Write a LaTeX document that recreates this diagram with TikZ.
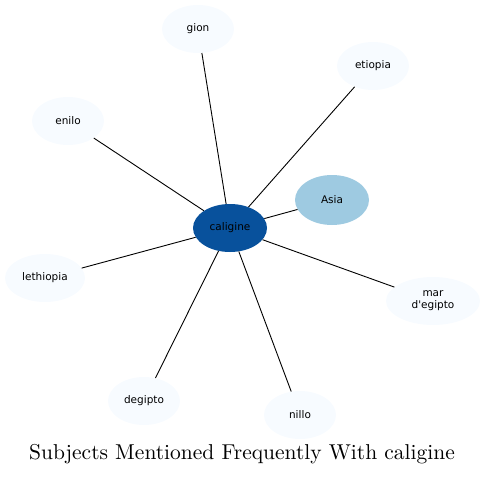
\documentclass[tikz,border=0pt]{standalone}
\usepackage{fontspec}
\newfontfamily\nodefont{DejaVu Sans}
\usetikzlibrary{shapes.geometric}
\definecolor{darkblue}{HTML}{08519C}
\definecolor{midblue}{HTML}{9ECAE1}
\definecolor{paleblue}{HTML}{F7FBFF}
\tikzset{
  bubble/.style={ellipse, draw=none, fill=paleblue, minimum width=72pt, minimum height=48pt, inner sep=0pt, font=\nodefont\fontsize{10.5}{12}\selectfont, align=center},
  hub/.style={bubble, fill=darkblue, minimum width=74pt},
  near/.style={bubble, fill=midblue, minimum width=74pt, minimum height=50pt},
  link/.style={draw=black, line width=0.9pt}
}
\begin{document}
\begin{tikzpicture}[x=1pt,y=-1pt]
\useasboundingbox (0,0) rectangle (486,476);
\node[hub] (c) at (230,228) {caligine};
\node[near] (asia) at (332,200) {Asia};
\node[bubble] (gion) at (198,29) {gion};
\node[bubble] (etiopia) at (373,66) {etiopia};
\node[bubble] (enilo) at (68,121) {enilo};
\node[bubble, minimum width=80pt] (leth) at (45,278) {lethiopia};
\node[bubble, minimum width=94pt] (mar) at (433,301) {mar\\d'egipto};
\node[bubble] (degipto) at (144,401) {degipto};
\node[bubble] (nillo) at (300,415) {nillo};
\foreach \n in {asia,gion,etiopia,enilo,leth,mar,degipto,nillo}
  \draw[link] (c) -- (\n);
\node[font=\fontsize{10}{12}\selectfont, anchor=base, inner sep=0pt] (title) at (242,459) {\scalebox{2.15}{Subjects Mentioned Frequently With caligine}};
\end{tikzpicture}
\end{document}
